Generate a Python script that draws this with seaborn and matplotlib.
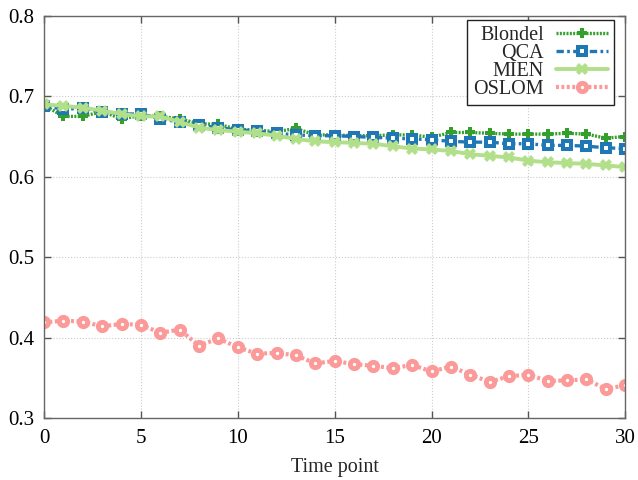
import numpy as np
import pandas as pd
import matplotlib
matplotlib.use("Agg")
import matplotlib.pyplot as plt
import seaborn as sns

# data
time_points = list(range(31))
blondel = [0.689, 0.675, 0.675, 0.681, 0.672, 0.676, 0.675, 0.672, 0.666, 0.665,
           0.659, 0.658, 0.656, 0.660, 0.652, 0.652, 0.651, 0.651, 0.652, 0.652,
           0.649, 0.655, 0.655, 0.654, 0.653, 0.653, 0.653, 0.654, 0.653, 0.648, 0.650]
qca = [0.688, 0.684, 0.685, 0.681, 0.678, 0.678, 0.672, 0.668, 0.664, 0.661,
       0.658, 0.657, 0.654, 0.652, 0.651, 0.651, 0.650, 0.649, 0.648, 0.647,
       0.646, 0.644, 0.643, 0.643, 0.641, 0.641, 0.639, 0.639, 0.638, 0.636, 0.635]
mien = [0.690, 0.688, 0.686, 0.682, 0.678, 0.675, 0.675, 0.668, 0.661, 0.658,
        0.656, 0.654, 0.651, 0.647, 0.644, 0.643, 0.642, 0.641, 0.638, 0.635,
        0.634, 0.632, 0.628, 0.626, 0.624, 0.620, 0.618, 0.617, 0.616, 0.614, 0.612]
oslom = [0.419, 0.421, 0.420, 0.414, 0.417, 0.416, 0.406, 0.410, 0.390, 0.399,
         0.388, 0.380, 0.381, 0.378, 0.368, 0.371, 0.367, 0.365, 0.362, 0.366,
         0.358, 0.364, 0.354, 0.345, 0.352, 0.354, 0.346, 0.347, 0.348, 0.336, 0.341]
names = ["Blondel", "QCA", "MIEN", "OSLOM"]

sns.set_style("ticks")
plt.rcParams['font.family'] = ['Liberation Serif', 'DejaVu Serif']

pal = sns.color_palette("Paired")
styles = {
    "Blondel": dict(color=pal[3], linestyle=(0, (0.6, 0.4)), lw=2.4, marker='P', ms=7.5,
                    mew=0, mfc=pal[3]),
    "QCA": dict(color=pal[1], linestyle=(0, (2.2, 1.0, 0.8, 1.0)), lw=2.4, marker='s', ms=5.8,
                mew=2.9, mfc='white', mec=pal[1]),
    "MIEN": dict(color=pal[2], linestyle='-', lw=2.8, marker='X', ms=9, mew=0, mfc=pal[2]),
    "OSLOM": dict(color=pal[4], linestyle=(0, (0.7, 0.6)), lw=3.0, marker='o', ms=6,
                  mew=3.5, mfc='white', mec=pal[4]),
}
series = {"Blondel": blondel, "QCA": qca, "MIEN": mien, "OSLOM": oslom}

fig = plt.figure(figsize=(6.38, 4.8), dpi=100)
ax = fig.add_axes([0.069, 0.129, 0.911, 0.838])

for name in names:
    df = pd.DataFrame({"t": time_points, "v": series[name]})
    sns.lineplot(data=df, x="t", y="v", ax=ax, label=name, **styles[name])

ax.set_xlim(0, 30)
ax.set_ylim(0.3, 0.8)
ax.set_xticks(range(0, 31, 5))
ax.set_yticks(np.arange(0.3, 0.81, 0.1))
ax.set_yticklabels([f"{v:.1f}" for v in np.arange(0.3, 0.81, 0.1)])
ax.set_xlabel("Time point", fontsize=14.5, labelpad=7)
ax.set_ylabel("")
ax.tick_params(direction='in', top=True, right=True, labelsize=15, length=5,
               width=1, colors='#555555', labelcolor='black', pad=8)
ax.tick_params(axis='y', pad=7)
for s in ax.spines.values():
    s.set_color('#666666')
    s.set_linewidth(1)
ax.grid(True, linestyle=':', color='#cccccc', linewidth=0.8)

leg = ax.legend(loc='upper right', bbox_to_anchor=(0.981, 0.99), markerfirst=False,
                fontsize=14.5, handlelength=2.6, frameon=True, fancybox=False,
                borderpad=0.3, labelspacing=-0.05, handletextpad=0.6, borderaxespad=0)
leg.get_frame().set_edgecolor('#222222')
leg.get_frame().set_linewidth(1)
leg.get_frame().set_alpha(1)
for t in leg.get_texts():
    t.set_ha('right')
leg._legend_box.align = "right"

fig.savefig("out.png", dpi=100)
